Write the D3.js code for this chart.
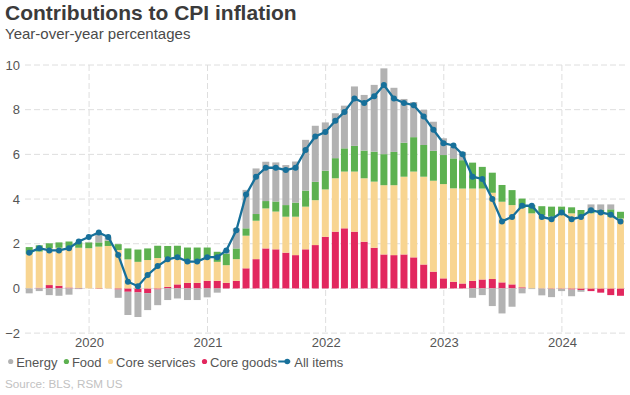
<!DOCTYPE html>
<html><head><meta charset="utf-8">
<script src="https://cdn.jsdelivr.net/npm/d3@7"></script>
<style>
html,body{margin:0;padding:0;background:#fff;}
svg text{font-family:"Liberation Sans",Arial,sans-serif;}
</style></head>
<body><svg id="chart" width="630" height="395"></svg>
<script>
const months = ["2019-06","2019-07","2019-08","2019-09","2019-10","2019-11","2019-12",
"2020-01","2020-02","2020-03","2020-04","2020-05","2020-06","2020-07","2020-08","2020-09","2020-10","2020-11","2020-12",
"2021-01","2021-02","2021-03","2021-04","2021-05","2021-06","2021-07","2021-08","2021-09","2021-10","2021-11","2021-12",
"2022-01","2022-02","2022-03","2022-04","2022-05","2022-06","2022-07","2022-08","2022-09","2022-10","2022-11","2022-12",
"2023-01","2023-02","2023-03","2023-04","2023-05","2023-06","2023-07","2023-08","2023-09","2023-10","2023-11","2023-12",
"2024-01","2024-02","2024-03","2024-04","2024-05","2024-06"];
const coreGoods = [0.00,0.03,0.15,0.12,0.04,0.02,0.00,
 -0.02,0.00,-0.05,-0.15,-0.18,-0.21,-0.05,0.07,0.18,0.25,0.25,0.34,
 0.34,0.25,0.34,0.90,1.31,1.79,1.75,1.60,1.49,1.75,1.94,2.31,
 2.54,2.69,2.54,2.09,1.82,1.52,1.49,1.52,1.39,1.07,0.75,0.45,
 0.30,0.22,0.34,0.40,0.42,0.27,0.18,0.05,0.00,-0.01,-0.02,-0.02,
 -0.05,-0.07,-0.12,-0.19,-0.30,-0.33];
const coreServices = [1.55,1.62,1.65,1.70,1.78,1.80,1.80,
 1.87,1.90,1.72,1.30,1.19,1.27,1.36,1.31,1.24,1.04,1.01,1.00,
 0.85,0.79,0.97,1.46,1.72,1.79,1.69,1.61,1.72,1.91,2.01,2.12,
 2.39,2.54,2.69,2.84,2.96,3.10,3.13,3.48,3.84,3.93,4.07,4.22,
 4.18,4.25,4.13,4.07,3.86,3.61,3.55,3.55,3.36,3.28,3.21,3.36,
 3.36,3.24,3.36,3.36,3.21,3.13];
const food = [0.30,0.28,0.22,0.24,0.28,0.25,0.26,
 0.19,0.23,0.26,0.49,0.55,0.52,0.55,0.52,0.49,0.54,0.57,0.49,
 0.45,0.52,0.48,0.33,0.30,0.33,0.45,0.52,0.63,0.72,0.82,0.84,
 0.90,1.04,1.15,1.24,1.34,1.39,1.49,1.52,1.54,1.42,1.34,1.30,
 1.34,1.27,1.16,0.97,0.90,0.75,0.67,0.42,0.37,0.40,0.45,0.30,
 0.27,0.27,0.18,0.15,0.33,0.30];
const energy = [-0.22,-0.12,-0.30,-0.33,-0.28,-0.03,0.02,
 0.36,0.15,-0.37,-1.04,-1.10,-0.76,-0.70,-0.52,-0.45,-0.52,-0.52,-0.40,
 -0.19,0.16,0.90,1.72,2.04,1.76,1.75,1.79,1.84,2.27,2.51,2.16,
 2.01,1.91,2.66,2.49,2.99,3.84,2.87,1.96,1.57,1.57,1.30,0.75,
 0.52,0.37,-0.42,-0.30,-0.79,-1.12,-0.82,-0.22,-0.03,-0.30,-0.37,-0.10,
 -0.30,-0.08,0.22,0.25,0.22,0.00];
const allItems = [1.6,1.8,1.7,1.7,1.8,2.1,2.3,
 2.5,2.3,1.5,0.3,0.1,0.6,1.0,1.3,1.4,1.2,1.2,1.4,
 1.4,1.7,2.6,4.2,5.0,5.4,5.4,5.3,5.4,6.2,6.8,7.0,
 7.5,7.9,8.5,8.3,8.6,9.1,8.5,8.3,8.2,7.7,7.1,6.5,
 6.4,6.0,5.0,4.9,4.0,3.0,3.2,3.7,3.7,3.2,3.1,3.4,
 3.1,3.2,3.5,3.4,3.3,3.0];
const seriesKeys = ["coreGoods","coreServices","food","energy"];
const legendLabels = ["Energy","Food","Core services","Core goods","All items"];
const yTicks = [-2,0,2,4,6,8,10];
const xTickLabels = ["2020","2021","2022","2023","2024"];

const colors = {energy:"#b2b2b2", food:"#5db150", coreServices:"#f8d591", coreGoods:"#e2275e", all:"#17709a"};

const parse = d3.timeParse("%Y-%m");
// bars dated at month end
const rows = months.map((m,i)=>{
  const d = parse(m);
  return {date:new Date(d.getFullYear(), d.getMonth()+1, 0),
    coreGoods:coreGoods[i], coreServices:coreServices[i], food:food[i], energy:energy[i], all:allItems[i]};
});

const svg = d3.select("#chart");
const pLeft=25, pRight=625, pTop=65, pBottom=333.1;
const x = d3.scaleTime().domain([new Date(2019,5,17), new Date(2024,6,14)]).range([pLeft,pRight]);
const y = d3.scaleLinear().domain([-2,10]).range([pBottom, pTop]);

// title
svg.append("text").attr("x",5).attr("y",20).attr("font-size",21).attr("font-weight","bold").attr("fill","#3b3b3b").text("Contributions to CPI inflation");
svg.append("text").attr("x",5).attr("y",39).attr("font-size",15).attr("fill","#4a4a4a").text("Year-over-year percentages");

// grid
const grid = svg.append("g");
grid.selectAll("line.h").data(yTicks).join("line")
  .attr("x1",pLeft).attr("x2",pRight).attr("y1",d=>y(d)).attr("y2",d=>y(d))
  .attr("stroke","#dedede").attr("stroke-width",1).attr("stroke-dasharray","6,3");
const yearDates = xTickLabels.map(s=>new Date(+s,0,1));
grid.selectAll("line.v").data(yearDates).join("line")
  .attr("x1",d=>x(d)).attr("x2",d=>x(d)).attr("y1",pTop).attr("y2",pBottom+2)
  .attr("stroke","#dedede").attr("stroke-width",1).attr("stroke-dasharray","6,3");

// y axis labels
const yAxis = d3.axisLeft(y).tickValues(yTicks).tickSize(0).tickPadding(0).tickFormat(d3.format("d"));
const ga = svg.append("g").attr("transform","translate(20,0)").call(yAxis);
ga.select(".domain").remove();
ga.selectAll("text").attr("font-size",13).attr("fill","#555").attr("font-family","Liberation Sans, Arial, sans-serif");

// x axis labels
const xAxis = d3.axisBottom(x).tickValues(yearDates).tickSize(0).tickPadding(0).tickFormat((d,i)=>xTickLabels[i]);
const gx = svg.append("g").attr("transform","translate(0,338)").call(xAxis);
gx.select(".domain").remove();
gx.selectAll("text").attr("font-size",13).attr("fill","#555").attr("font-family","Liberation Sans, Arial, sans-serif");

// stacked bars
const stack = d3.stack().keys(seriesKeys).offset(d3.stackOffsetDiverging);
const stacked = stack(rows);
const bw = 7;
svg.append("g").selectAll("g").data(stacked).join("g")
  .attr("fill",s=>colors[s.key])
  .selectAll("rect").data(s=>s).join("rect")
  .attr("x",d=>x(d.data.date)-bw/2)
  .attr("width",bw)
  .attr("y",d=>y(Math.max(d[0],d[1])))
  .attr("height",d=>Math.abs(y(d[0])-y(d[1])));

// line
const line = d3.line().x(d=>x(d.date)).y(d=>y(d.all)).curve(d3.curveLinear);
svg.append("path").datum(rows).attr("d",line).attr("fill","none").attr("stroke",colors.all).attr("stroke-width",2.3);
svg.append("g").selectAll("circle").data(rows).join("circle")
  .attr("cx",d=>x(d.date)).attr("cy",d=>y(d.all)).attr("r",3).attr("fill",colors.all);

// legend
const lg = svg.append("g").attr("font-size",13).attr("fill","#555");
const legendColors = [colors.energy, colors.food, colors.coreServices, colors.coreGoods];
let lx = 10.7;
const ly = 362;
legendLabels.forEach((lab,i)=>{
  if(i<4){
    lg.append("circle").attr("cx",lx).attr("cy",ly-0.5).attr("r",2.6).attr("fill",legendColors[i]);
    const t = lg.append("text").attr("x",lx+5.5).attr("y",ly+4.5).text(lab);
    lx = lx+5.5+t.node().getComputedTextLength()+9;
  } else {
    lg.append("line").attr("x1",lx-8).attr("x2",lx+4).attr("y1",ly-0.5).attr("y2",ly-0.5).attr("stroke",colors.all).attr("stroke-width",2);
    lg.append("circle").attr("cx",lx+1).attr("cy",ly-0.5).attr("r",2.8).attr("fill",colors.all);
    lg.append("text").attr("x",lx+8).attr("y",ly+4.5).text(lab);
  }
});

svg.append("text").attr("x",5).attr("y",388).attr("font-size",11.7).attr("fill","#c2c2c2").text("Source: BLS, RSM US");
</script></body></html>
